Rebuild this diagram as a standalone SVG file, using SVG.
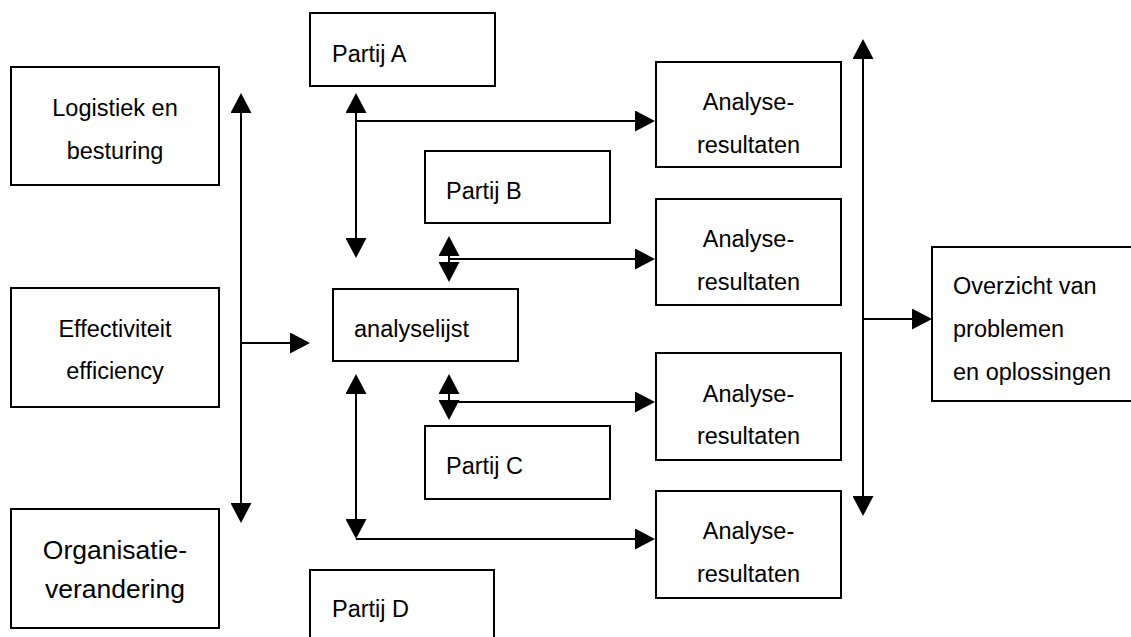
<svg xmlns="http://www.w3.org/2000/svg" width="1131" height="637" viewBox="0 0 1131 637">
<style>
.box{fill:#fff;stroke:#000;stroke-width:2}
.t{font-family:"Liberation Sans",Arial,sans-serif;font-size:23.5px;fill:#000}
.c{text-anchor:middle}
.big{font-size:26.5px}
.ln{fill:none;stroke:#000;stroke-width:2}
</style>
<defs>
<marker id="ah" markerUnits="userSpaceOnUse" markerWidth="20" markerHeight="21" viewBox="0 0 20 21" refX="10" refY="10.5" orient="auto-start-reverse">
<path d="M0,0 L20,10.5 L0,21 Z" fill="#000"/>
</marker>
</defs>
<rect width="1131" height="637" fill="#fff"/>
<g id="connectors">
<line class="ln" x1="241" y1="103" x2="241" y2="513" marker-start="url(#ah)" marker-end="url(#ah)"/>
<line class="ln" x1="241" y1="343" x2="300" y2="343" marker-end="url(#ah)"/>
<line class="ln" x1="356" y1="103" x2="356" y2="248" marker-start="url(#ah)" marker-end="url(#ah)"/>
<line class="ln" x1="356" y1="121" x2="645" y2="121" marker-end="url(#ah)"/>
<line class="ln" x1="449" y1="246" x2="449" y2="272" marker-start="url(#ah)" marker-end="url(#ah)"/>
<line class="ln" x1="449" y1="259" x2="645" y2="259" marker-end="url(#ah)"/>
<line class="ln" x1="449" y1="384" x2="449" y2="410" marker-start="url(#ah)" marker-end="url(#ah)"/>
<line class="ln" x1="449" y1="402" x2="645" y2="402" marker-end="url(#ah)"/>
<line class="ln" x1="356" y1="384" x2="356" y2="529" marker-start="url(#ah)" marker-end="url(#ah)"/>
<line class="ln" x1="356" y1="539" x2="645" y2="539" marker-end="url(#ah)"/>
<line class="ln" x1="863" y1="49" x2="863" y2="506" marker-start="url(#ah)" marker-end="url(#ah)"/>
<line class="ln" x1="863" y1="319" x2="922" y2="319" marker-end="url(#ah)"/>
</g>
<g id="logistiek">
<rect class="box" x="11" y="67" width="208" height="118"/>
<text class="t c" x="115" y="116">Logistiek en</text>
<text class="t c" x="115" y="159">besturing</text>
</g>
<g id="effectiviteit">
<rect class="box" x="11" y="288" width="208" height="119"/>
<text class="t c" x="115" y="337">Effectiviteit</text>
<text class="t c" x="115" y="379">efficiency</text>
</g>
<g id="organisatie">
<rect class="box" x="11" y="509" width="208" height="119"/>
<text class="t c big" x="115" y="559">Organisatie-</text>
<text class="t c big" x="115" y="598">verandering</text>
</g>
<g id="partijA">
<rect class="box" x="310" y="13" width="185" height="73"/>
<text class="t" x="332" y="62">Partij A</text>
</g>
<g id="partijB">
<rect class="box" x="425" y="151" width="185" height="72"/>
<text class="t" x="446" y="199">Partij B</text>
</g>
<g id="analyselijst">
<rect class="box" x="333" y="289" width="185" height="72"/>
<text class="t" x="354" y="337">analyselijst</text>
</g>
<g id="partijC">
<rect class="box" x="425" y="426" width="185" height="73"/>
<text class="t" x="446" y="474">Partij C</text>
</g>
<g id="partijD">
<rect class="box" x="310" y="570" width="184" height="80"/>
<text class="t" x="332" y="617">Partij D</text>
</g>
<g id="analyse1">
<rect class="box" x="656" y="62" width="185" height="105"/>
<text class="t c" x="748.5" y="110">Analyse-</text>
<text class="t c" x="748.5" y="153">resultaten</text>
</g>
<g id="analyse2">
<rect class="box" x="656" y="199" width="185" height="106"/>
<text class="t c" x="748.5" y="247">Analyse-</text>
<text class="t c" x="748.5" y="290">resultaten</text>
</g>
<g id="analyse3">
<rect class="box" x="656" y="353" width="185" height="107"/>
<text class="t c" x="748.5" y="402">Analyse-</text>
<text class="t c" x="748.5" y="444">resultaten</text>
</g>
<g id="analyse4">
<rect class="box" x="656" y="491" width="185" height="107"/>
<text class="t c" x="748.5" y="539">Analyse-</text>
<text class="t c" x="748.5" y="582">resultaten</text>
</g>
<g id="overzicht">
<rect class="box" x="932" y="247" width="210" height="154"/>
<text class="t" x="953" y="294">Overzicht van</text>
<text class="t" x="953" y="337">problemen</text>
<text class="t" x="953" y="380">en oplossingen</text>
</g>
</svg>
